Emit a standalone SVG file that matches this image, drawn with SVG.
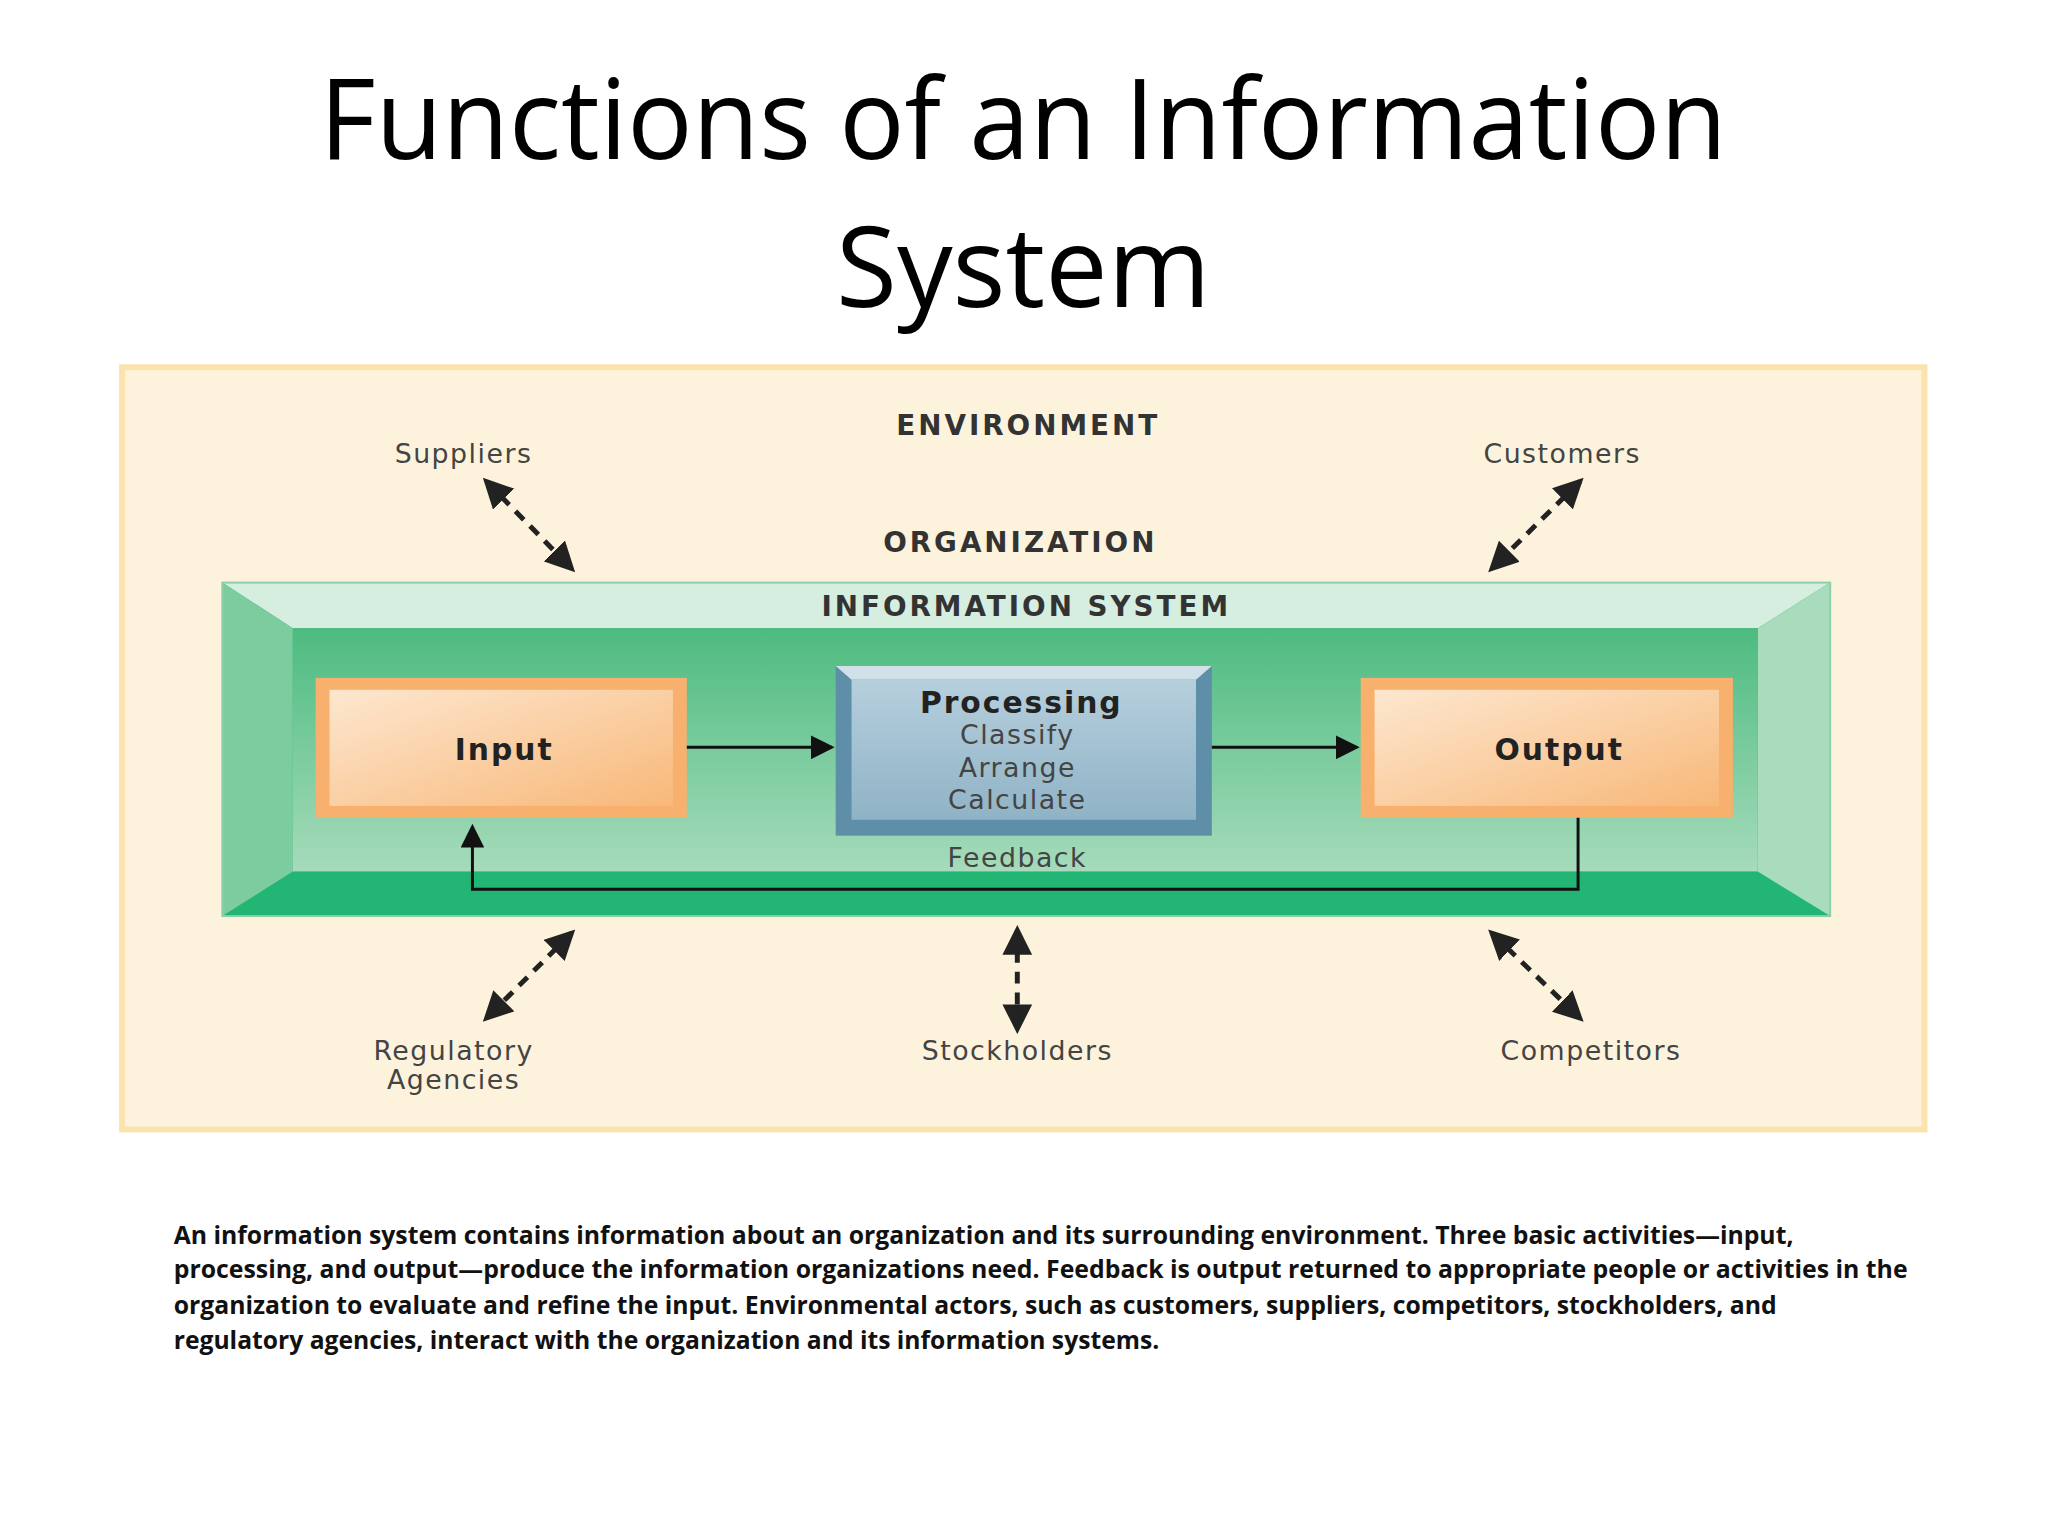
<svg xmlns="http://www.w3.org/2000/svg" width="2048" height="1536" viewBox="0 0 2048 1536">
<style>
.t{font-family:"DejaVu Sans",sans-serif;fill:#333;text-anchor:middle}
.h{font-weight:bold;font-size:28px;letter-spacing:3px;fill:#333}
.e{font-size:27px;letter-spacing:1.5px;fill:#444}
.b{font-weight:bold;font-size:30px;letter-spacing:2px;fill:#222}
.cap{font-family:"Open Sans",sans-serif;font-weight:bold;font-size:25px;fill:#111}
.d{stroke:#222;stroke-width:5;stroke-dasharray:12 9;fill:none}
.s{stroke:#111;stroke-width:3;fill:none}
</style>
<defs>
<marker id="a" markerWidth="8" markerHeight="8" refX="7" refY="4" orient="auto" markerUnits="strokeWidth"><path d="M0,0 L8,4 L0,8 Z" fill="#111"/></marker>
<marker id="da" markerWidth="6" markerHeight="6" refX="5" refY="3" orient="auto-start-reverse" markerUnits="strokeWidth"><path d="M0,0 L6,3 L0,6 Z" fill="#222"/></marker>
<linearGradient id="g" x1="0" y1="0" x2="0" y2="1"><stop offset="0" stop-color="#4dbb80"/><stop offset="1" stop-color="#a6dbbb"/></linearGradient>
<linearGradient id="o" x1="0" y1="0" x2="1" y2="1"><stop offset="0" stop-color="#fde7cf"/><stop offset="1" stop-color="#f8b879"/></linearGradient>
<linearGradient id="p" x1="0" y1="0" x2="0" y2="1"><stop offset="0" stop-color="#b6cfdd"/><stop offset="1" stop-color="#8fb3c6"/></linearGradient>
</defs>
<rect width="2048" height="1536" fill="#fff"/>
<g transform="scale(0.9925)">
<text x="1031" y="160" font-family="Open Sans,sans-serif" font-size="112" text-anchor="middle" fill="#000" textLength="1418" lengthAdjust="spacingAndGlyphs">Functions of an Information</text>
<text x="1031" y="309" font-family="Open Sans,sans-serif" font-size="112" text-anchor="middle" fill="#000">System</text>
<g id="environment">
<rect x="123" y="370" width="1816" height="768" fill="#fdf3dc" stroke="#fbe3b0" stroke-width="6"/>
<text class="t h" x="1036" y="438">ENVIRONMENT</text>
<text class="t h" x="1028" y="556">ORGANIZATION</text>
</g>
<g id="infosystem">
<rect x="224" y="587" width="1620" height="336" fill="#22b573"/>
<polygon points="224,587 1844,587 1771,633 295,633" fill="#d5eee0"/>
<polygon points="224,587 295,633 295,878 224,923" fill="#7dcc9f"/>
<polygon points="1844,587 1771,633 1771,878 1844,923" fill="#a8dcbc"/>
<rect x="295" y="633" width="1476" height="245" fill="url(#g)"/>
<rect x="224" y="587" width="1620" height="336" fill="none" stroke="#8ccfa8" stroke-width="2"/>
<text class="t h" x="1034" y="621">INFORMATION SYSTEM</text>
</g>
<g id="input">
<rect x="318" y="683" width="374" height="141" fill="#f7b06e"/>
<rect x="332" y="695" width="346" height="117" fill="url(#o)"/>
<text class="t b" x="508" y="766">Input</text>
</g>
<g id="processing">
<rect x="842" y="671" width="379" height="171" fill="#5f8fa8"/>
<polygon points="842,671 1221,671 1205,685 858,685" fill="#d0e1ea"/>
<rect x="858" y="685" width="347" height="141" fill="url(#p)"/>
<text class="t b" x="1029" y="718">Processing</text>
<text class="t e" x="1025" y="750">Classify</text>
<text class="t e" x="1025" y="783">Arrange</text>
<text class="t e" x="1025" y="815">Calculate</text>
</g>
<g id="output">
<rect x="1371" y="683" width="375" height="141" fill="#f7b06e"/>
<rect x="1385" y="695" width="347" height="117" fill="url(#o)"/>
<text class="t b" x="1571" y="766">Output</text>
</g>
<g id="labels">
<text class="t e" x="467" y="467">Suppliers</text>
<text class="t e" x="1574" y="467">Customers</text>
<text class="t e" x="457" y="1068">Regulatory</text>
<text class="t e" x="457" y="1097">Agencies</text>
<text class="t e" x="1025" y="1068">Stockholders</text>
<text class="t e" x="1603" y="1068">Competitors</text>
<text class="t e" x="1025" y="874">Feedback</text>
</g>
<g id="connectors">
<line class="s" x1="692" y1="753" x2="838" y2="753" marker-end="url(#a)"/>
<line class="s" x1="1221" y1="753" x2="1367" y2="753" marker-end="url(#a)"/>
<polyline class="s" points="1590,824 1590,896 476,896 476,833" marker-end="url(#a)"/>
<line class="d" x1="490" y1="485" x2="576" y2="573" marker-start="url(#da)" marker-end="url(#da)"/>
<line class="d" x1="1592" y1="485" x2="1503" y2="573" marker-start="url(#da)" marker-end="url(#da)"/>
<line class="d" x1="576" y1="940" x2="490" y2="1026" marker-start="url(#da)" marker-end="url(#da)"/>
<line class="d" x1="1025" y1="937" x2="1025" y2="1037" marker-start="url(#da)" marker-end="url(#da)"/>
<line class="d" x1="1503" y1="940" x2="1592" y2="1026" marker-start="url(#da)" marker-end="url(#da)"/>
</g>
<g id="caption">
<text class="cap" x="175" y="1253" textLength="1632" lengthAdjust="spacingAndGlyphs">An information system contains information about an organization and its surrounding environment. Three basic activities—input,</text>
<text class="cap" x="175" y="1288" textLength="1747" lengthAdjust="spacingAndGlyphs">processing, and output—produce the information organizations need. Feedback is output returned to appropriate people or activities in the</text>
<text class="cap" x="175" y="1324" textLength="1615" lengthAdjust="spacingAndGlyphs">organization to evaluate and refine the input. Environmental actors, such as customers, suppliers, competitors, stockholders, and</text>
<text class="cap" x="175" y="1359" textLength="993" lengthAdjust="spacingAndGlyphs">regulatory agencies, interact with the organization and its information systems.</text>
</g>
</g>
</svg>
